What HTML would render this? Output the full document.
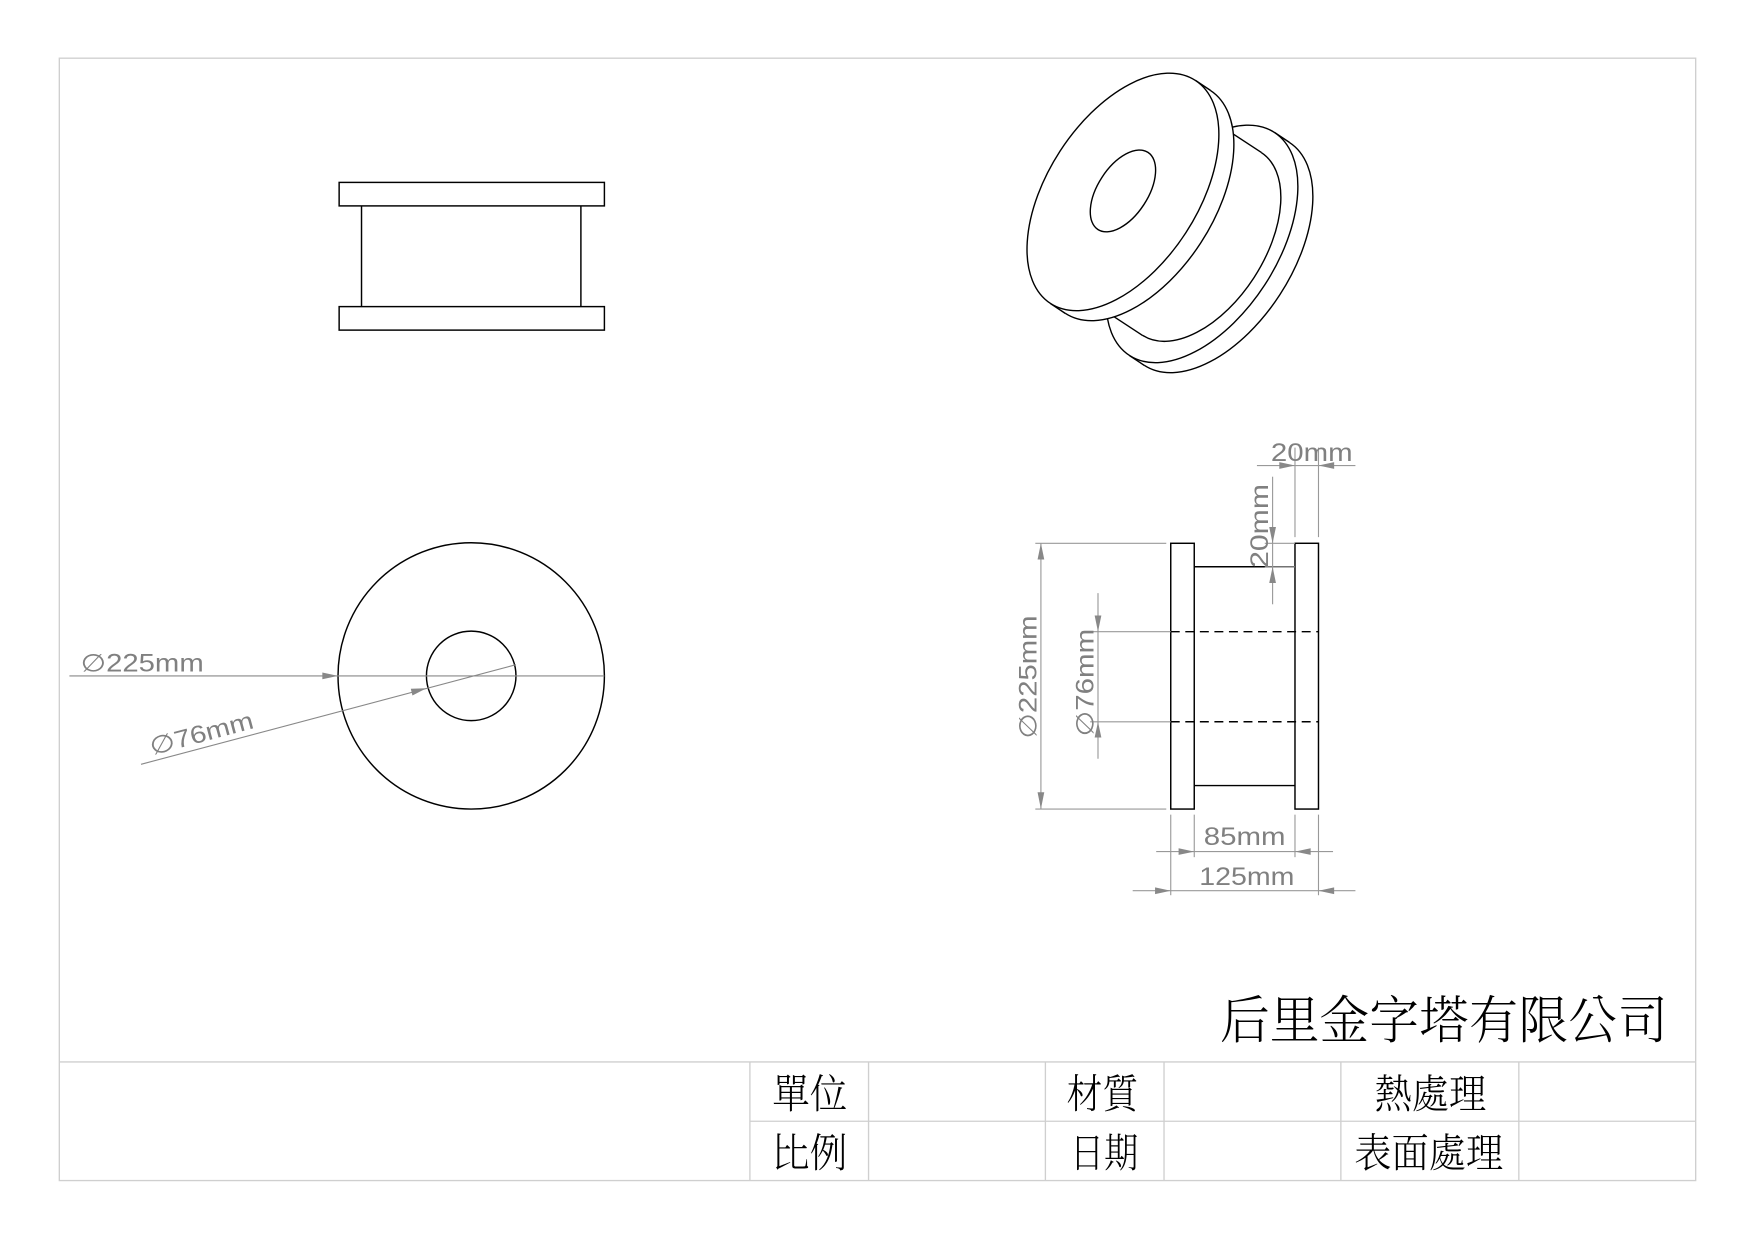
<!DOCTYPE html>
<html><head><meta charset="utf-8"><style>html,body{margin:0;padding:0;background:#fff}svg{display:block}</style></head>
<body>
<svg width="1755" height="1241" viewBox="0 0 1568 1109" preserveAspectRatio="none" xmlns="http://www.w3.org/2000/svg">
<rect x="0" y="0" width="1568" height="1109" fill="#fff"/>
<g stroke="#cfcfcf" stroke-width="1.2" fill="none">
<rect x="53" y="52" width="1462" height="1003"/>
<line x1="53" y1="949" x2="1515" y2="949"/>
<line x1="670" y1="1002" x2="1515" y2="1002"/>
<line x1="670" y1="949" x2="670" y2="1055"/>
<line x1="776" y1="949" x2="776" y2="1055"/>
<line x1="934" y1="949" x2="934" y2="1055"/>
<line x1="1040" y1="949" x2="1040" y2="1055"/>
<line x1="1198" y1="949" x2="1198" y2="1055"/>
<line x1="1357" y1="949" x2="1357" y2="1055"/>
</g>
<g font-family="'Liberation Serif','Noto Serif CJK TC','Noto Serif CJK SC',serif" fill="#000" font-weight="300">
<text x="1090" y="928" font-size="46" textLength="400" lengthAdjust="spacingAndGlyphs">后里金字塔有限公司</text>
<text x="690" y="990" font-size="36" textLength="67" lengthAdjust="spacingAndGlyphs">單位</text>
<text x="953" y="990" font-size="36" textLength="64" lengthAdjust="spacingAndGlyphs">材質</text>
<text x="1228" y="990" font-size="36" textLength="100" lengthAdjust="spacingAndGlyphs">熱處理</text>
<text x="690" y="1043" font-size="36" textLength="67" lengthAdjust="spacingAndGlyphs">比例</text>
<text x="956" y="1043" font-size="36" textLength="61" lengthAdjust="spacingAndGlyphs">日期</text>
<text x="1210" y="1043" font-size="36" textLength="133" lengthAdjust="spacingAndGlyphs">表面處理</text>
</g>

<g stroke="#000" stroke-width="1.3" fill="none">
<rect x="303" y="163" width="237" height="21"/>
<rect x="303" y="274" width="237" height="21"/>
<line x1="323" y1="184" x2="323" y2="274"/>
<line x1="519" y1="184" x2="519" y2="274"/>
</g>

<g stroke="#000" stroke-width="1.3" fill="none">
<circle cx="421" cy="604" r="119"/>
<circle cx="421" cy="604" r="40"/>
</g>
<g stroke="#888" stroke-width="1" fill="none">
<line x1="62" y1="604" x2="540" y2="604"/>
<line x1="126" y1="683" x2="461" y2="594"/>
</g>
<g fill="#888">
<polygon points="302,604 288,601 288,607"/>
<polygon points="381,615 367,615.5 368.5,621.5"/>
</g>
<g font-family="'Liberation Sans','DejaVu Sans',sans-serif" fill="#808080" font-size="22" lengthAdjust="spacingAndGlyphs">
<text x="72" y="600" textLength="110" lengthAdjust="spacingAndGlyphs">∅225mm</text>
<text x="136" y="675" transform="rotate(-15 136 675)" textLength="95" lengthAdjust="spacingAndGlyphs">∅76mm</text>
</g>

<g stroke="#000" stroke-width="1.3" fill="none">
<rect x="1046" y="485.5" width="21" height="237.5"/>
<rect x="1157" y="485.5" width="21" height="237.5"/>
<line x1="1067" y1="506.5" x2="1157" y2="506.5"/>
<line x1="1067" y1="702" x2="1157" y2="702"/>
<line x1="1046" y1="564.5" x2="1178" y2="564.5" stroke-dasharray="8,5"/>
<line x1="1046" y1="645" x2="1178" y2="645" stroke-dasharray="8,5"/>
</g>
<g stroke="#999" stroke-width="1" fill="none">
<line x1="925" y1="485.5" x2="1042" y2="485.5"/>
<line x1="925" y1="723" x2="1042" y2="723"/>
<line x1="930" y1="485.5" x2="930" y2="723"/>
<line x1="974" y1="564.5" x2="1046" y2="564.5"/>
<line x1="974" y1="645" x2="1046" y2="645"/>
<line x1="981" y1="530" x2="981" y2="678"/>
<line x1="1137" y1="426" x2="1137" y2="540"/>
<line x1="1130" y1="485.5" x2="1157" y2="485.5"/>
<line x1="1130" y1="506.5" x2="1157" y2="506.5"/>
<line x1="1157" y1="400" x2="1157" y2="480"/>
<line x1="1178" y1="400" x2="1178" y2="480"/>
<line x1="1123" y1="416" x2="1211" y2="416"/>
<line x1="1046" y1="728" x2="1046" y2="800"/>
<line x1="1067" y1="728" x2="1067" y2="766"/>
<line x1="1157" y1="728" x2="1157" y2="766"/>
<line x1="1178" y1="728" x2="1178" y2="800"/>
<line x1="1033" y1="761" x2="1191" y2="761"/>
<line x1="1012" y1="796" x2="1211" y2="796"/>
</g>
<g fill="#888">
<polygon points="930,485.5 927,500 933,500"/>
<polygon points="930,723 927,708 933,708"/>
<polygon points="981,564.5 978,550 984,550"/>
<polygon points="981,645 978,659 984,659"/>
<polygon points="1137,485.5 1134,471 1140,471"/>
<polygon points="1137,506.5 1134,521 1140,521"/>
<polygon points="1157,416 1143,413 1143,419"/>
<polygon points="1178,416 1192,413 1192,419"/>
<polygon points="1067,761 1053,758 1053,764"/>
<polygon points="1157,761 1171,758 1171,764"/>
<polygon points="1046,796 1032,793 1032,799"/>
<polygon points="1178,796 1192,793 1192,799"/>
</g>
<g font-family="'Liberation Sans','DejaVu Sans',sans-serif" fill="#808080" font-size="22" text-anchor="middle">
<text x="1172" y="412" textLength="73" lengthAdjust="spacingAndGlyphs">20mm</text>
<text x="1112" y="755" textLength="73" lengthAdjust="spacingAndGlyphs">85mm</text>
<text x="1114" y="791" textLength="85" lengthAdjust="spacingAndGlyphs">125mm</text>
<text x="926" y="605" transform="rotate(-90 926 605)" textLength="110" lengthAdjust="spacingAndGlyphs">∅225mm</text>
<text x="977" y="610" transform="rotate(-90 977 610)" textLength="96" lengthAdjust="spacingAndGlyphs">∅76mm</text>
<text x="1133" y="470" transform="rotate(-90 1133 470)" textLength="75" lengthAdjust="spacingAndGlyphs">20mm</text>
</g>

<g transform="scale(0.8934)" stroke="#000" stroke-width="1.4" fill="#fff">
<ellipse cx="1217" cy="254" rx="133" ry="75" transform="rotate(-57 1217 254)"/>
<polygon points="1274.5,132.4 1289.5,142.4 1144.5,365.6 1129.5,355.6" stroke="none"/>
<line x1="1274.5" y1="132.4" x2="1289.5" y2="142.4"/>
<line x1="1129.5" y1="355.6" x2="1144.5" y2="365.6"/>
<ellipse cx="1202" cy="244" rx="133" ry="75" transform="rotate(-57 1202 244)"/>
<ellipse cx="1202" cy="244" rx="109" ry="62" transform="rotate(-57 1202 244)"/>
<polygon points="1197.4,110.5 1261.4,152.5 1142.6,335.5 1078.6,293.5" stroke="none"/>
<line x1="1197.4" y1="110.5" x2="1261.4" y2="152.5"/>
<line x1="1078.6" y1="293.5" x2="1142.6" y2="335.5"/>
<ellipse cx="1138" cy="202" rx="133" ry="75" transform="rotate(-57 1138 202)"/>
<polygon points="1195.5,80.4 1210.5,90.4 1065.5,313.6 1050.5,303.6" stroke="none"/>
<line x1="1195.5" y1="80.4" x2="1210.5" y2="90.4"/>
<line x1="1050.5" y1="303.6" x2="1065.5" y2="313.6"/>
<ellipse cx="1123" cy="192" rx="133" ry="75" transform="rotate(-57 1123 192)"/>
<ellipse cx="1123" cy="191" rx="46" ry="25" transform="rotate(-57 1123 191)"/>
</g>
</svg>
</body></html>
